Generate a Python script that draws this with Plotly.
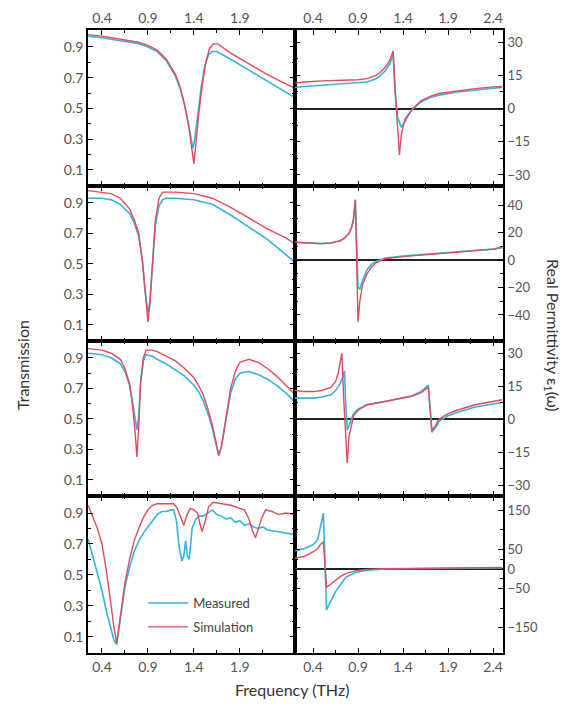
import plotly.graph_objects as go

# ---------------- data ----------------
# Row 1 : transmission
t1_meas_x = [0.25,0.4,0.6,0.8,0.9,1.0,1.1,1.2,1.25,1.3,1.34,1.37,1.39,1.41,1.44,1.48,1.52,1.56,1.6,1.65,1.8,2.0,2.2,2.4,2.5]
t1_meas_y = [0.97,0.96,0.94,0.92,0.9,0.87,0.81,0.71,0.63,0.52,0.40,0.30,0.24,0.30,0.45,0.64,0.78,0.85,0.87,0.87,0.82,0.75,0.68,0.61,0.57]
t1_sim_x = [0.25,0.4,0.6,0.8,0.9,1.0,1.1,1.2,1.25,1.3,1.34,1.37,1.40,1.42,1.45,1.49,1.53,1.57,1.61,1.66,1.8,2.0,2.2,2.4,2.5]
t1_sim_y = [0.98,0.97,0.95,0.93,0.91,0.88,0.82,0.72,0.64,0.52,0.40,0.28,0.14,0.26,0.45,0.65,0.80,0.89,0.92,0.92,0.86,0.79,0.72,0.66,0.63]
# Row 1 : permittivity
e1_meas_x = [0.2,0.3,0.5,0.7,0.9,1.0,1.1,1.15,1.2,1.25,1.29,1.31,1.34,1.38,1.42,1.46,1.51,1.6,1.7,1.8,2.0,2.2,2.4,2.5]
e1_meas_y = [9.5,10,10.5,11,11.5,12,13.5,15,17,20,24.5,8,-4,-8.5,-6,-3,0,3,5,6,7.5,8.5,9.2,9.5]
e1_sim_x = [0.2,0.3,0.5,0.7,0.9,1.0,1.1,1.15,1.2,1.25,1.29,1.31,1.34,1.36,1.38,1.42,1.46,1.51,1.6,1.7,1.8,2.0,2.2,2.4,2.5]
e1_sim_y = [11.5,12,12.5,12.8,13,13.5,15,16.5,18.5,21.5,26,10,-10,-21,-12,-5,-2.5,0,3.5,5.5,6.8,8,9,9.8,10]

# Row 2 : transmission
t2_x = [0.25,0.4,0.5,0.6,0.7,0.75,0.8,0.84,0.87,0.9,0.92,0.95,0.98,1.02,1.06,1.1,1.2,1.4,1.6,1.8,2.0,2.2,2.4,2.5]
t2_meas_y = [0.93,0.93,0.92,0.89,0.83,0.77,0.68,0.52,0.32,0.18,0.25,0.50,0.75,0.88,0.92,0.93,0.93,0.92,0.89,0.82,0.74,0.66,0.56,0.51]
t2_sim_y = [0.98,0.97,0.96,0.93,0.86,0.79,0.70,0.52,0.30,0.12,0.22,0.50,0.78,0.93,0.97,0.97,0.97,0.96,0.93,0.87,0.80,0.73,0.67,0.63]
# Row 2 : permittivity
e2_x = [0.2,0.3,0.4,0.5,0.6,0.7,0.75,0.8,0.83,0.85,0.87,0.88,0.89,0.9,0.92,0.95,1.0,1.05,1.1,1.2,1.4,1.6,1.8,2.0,2.2,2.4,2.5]
e2_meas_y = [13,12.5,12,12,12.5,14,16,19.5,24,30,44,20,-5,-20,-21,-15,-7,-3,-1,1.5,3,4,4.5,5.5,6.5,8,9]
e2_sim_y = [13,12.5,12,12,12.5,14,16,19.5,24,30,44,10,-30,-45,-30,-18,-10,-5,-2,1,2.5,3.5,4.5,5.5,6.5,8,9.5]

# Row 3 : transmission
t3_x = [0.25,0.4,0.5,0.6,0.65,0.7,0.73,0.76,0.78,0.8,0.82,0.85,0.88,0.95,1.0,1.1,1.2,1.3,1.4,1.45,1.5,1.55,1.6,1.64,1.67,1.7,1.75,1.8,1.85,1.9,2.0,2.1,2.2,2.3,2.4,2.5]
t3_meas_y = [0.93,0.92,0.90,0.86,0.81,0.72,0.62,0.50,0.43,0.52,0.73,0.88,0.92,0.91,0.89,0.86,0.82,0.78,0.72,0.68,0.62,0.54,0.44,0.34,0.26,0.32,0.50,0.67,0.76,0.80,0.81,0.79,0.76,0.72,0.67,0.61]
t3_sim_y = [0.96,0.95,0.93,0.89,0.83,0.73,0.60,0.42,0.25,0.45,0.74,0.90,0.95,0.95,0.94,0.91,0.88,0.83,0.77,0.72,0.66,0.57,0.46,0.35,0.26,0.32,0.51,0.70,0.81,0.87,0.89,0.87,0.83,0.78,0.72,0.66]
# Row 3 : permittivity
e3_meas_x = [0.2,0.3,0.4,0.5,0.6,0.65,0.7,0.73,0.75,0.76,0.78,0.8,0.85,0.9,1.0,1.2,1.4,1.5,1.6,1.65,1.68,1.70,1.72,1.76,1.8,1.9,2.0,2.2,2.4,2.5]
e3_meas_y = [9.5,9.5,9.5,10,11,13,16,19,22,10,-5,-3,2.5,4.5,6.5,8,9.5,10.5,12.5,14.5,15.5,5,-6,-4,-1,1.5,3,5.5,7,7.5]
e3_sim_x = [0.2,0.3,0.4,0.5,0.6,0.65,0.68,0.70,0.72,0.74,0.76,0.78,0.80,0.85,0.9,1.0,1.2,1.4,1.5,1.6,1.65,1.68,1.70,1.72,1.76,1.8,1.9,2.0,2.2,2.4,2.5]
e3_sim_y = [13,12.5,12.5,13,14.5,17,21,25,30,10,-8,-20,-8,1.5,4,6.5,8,9.5,10.5,12,13.5,14.5,5,-5,-3,0,2.5,4,6.5,8.2,8.8]

# Row 4 : transmission
t4_meas_x = [0.25,0.3,0.35,0.4,0.45,0.5,0.53,0.56,0.6,0.65,0.7,0.75,0.8,0.85,0.9,0.95,1.0,1.05,1.1,1.15,1.18,1.21,1.24,1.27,1.29,1.31,1.33,1.35,1.38,1.42,1.46,1.5,1.55,1.6,1.65,1.7,1.75,1.8,1.85,1.9,1.95,2.0,2.05,2.1,2.15,2.2,2.3,2.4,2.5]
t4_meas_y = [0.73,0.62,0.52,0.40,0.26,0.14,0.08,0.05,0.22,0.42,0.55,0.65,0.72,0.77,0.81,0.85,0.89,0.91,0.91,0.92,0.92,0.85,0.68,0.59,0.62,0.72,0.62,0.60,0.80,0.86,0.88,0.88,0.90,0.92,0.89,0.88,0.86,0.87,0.84,0.85,0.82,0.83,0.81,0.80,0.81,0.79,0.78,0.77,0.76]
t4_sim_x = [0.25,0.3,0.35,0.4,0.45,0.5,0.53,0.56,0.6,0.65,0.7,0.75,0.8,0.85,0.9,0.95,1.0,1.1,1.18,1.22,1.26,1.29,1.32,1.36,1.4,1.44,1.47,1.49,1.52,1.56,1.61,1.7,1.8,1.9,1.95,2.0,2.04,2.07,2.1,2.14,2.18,2.25,2.32,2.4,2.5]
t4_sim_y = [0.95,0.88,0.80,0.70,0.52,0.30,0.16,0.06,0.25,0.45,0.60,0.72,0.80,0.87,0.92,0.95,0.96,0.96,0.96,0.93,0.86,0.82,0.88,0.93,0.92,0.90,0.82,0.78,0.84,0.94,0.97,0.96,0.95,0.93,0.92,0.86,0.78,0.74,0.79,0.87,0.92,0.91,0.89,0.90,0.89]
# Row 4 : permittivity
e4_x = [0.2,0.3,0.4,0.45,0.48,0.5,0.515,0.53,0.55,0.58,0.62,0.66,0.72,0.77,0.88,1.0,1.2,1.5,2.0,2.5]
e4_meas_y = [47,52,62,75,105,130,143,40,-105,-90,-70,-54,-35,-20,-8,-3,0,1,2,3]
e4_sim_y = [28,32,44,52,62,67,70,20,-46,-42,-34,-27,-17,-11,-4,-1,1,2,3,4]

# tick labels
freq_ticks = [0.4, 0.9, 1.4, 1.9]
freq_ticks_right = [0.4, 0.9, 1.4, 1.9, 2.4]
trans_ticks = [0.1, 0.3, 0.5, 0.7, 0.9]
eps_ticks = [[-30, -15, 0, 15, 30], [-40, -20, 0, 20, 40], [-30, -15, 0, 15, 30], [-150, -50, 0, 50, 150]]
eps_ranges = [[-35, 35.5], [-59, 54], [-35, 35.5], [-215, 187]]

series_names = ["Measured", "Simulation"]
panels = [
    [(t1_meas_x, t1_meas_y, t1_sim_x, t1_sim_y), (e1_meas_x, e1_meas_y, e1_sim_x, e1_sim_y)],
    [(t2_x, t2_meas_y, t2_x, t2_sim_y), (e2_x, e2_meas_y, e2_x, e2_sim_y)],
    [(t3_x, t3_meas_y, t3_x, t3_sim_y), (e3_meas_x, e3_meas_y, e3_sim_x, e3_sim_y)],
    [(t4_meas_x, t4_meas_y, t4_sim_x, t4_sim_y), (e4_x, e4_meas_y, e4_x, e4_sim_y)],
]

# ---------------- figure ----------------
W, H = 569, 704
MEAS = "#35b3dc"
SIM = "#e24b5b"
FONT = "Lato"
TICKC = "#555555"

x_left = [88 / W, 295 / W]
x_right = [295 / W, 503 / W]
row_px = [(30, 186), (186, 341), (341, 496), (496, 653)]

fig = go.Figure()
layout = dict(width=W, height=H, margin=dict(l=0, r=0, t=0, b=0),
              paper_bgcolor="white", plot_bgcolor="white",
              font=dict(family=FONT, color=TICKC))

for r in range(4):
    for c in range(2):
        n = r * 2 + c + 1
        xa = "x" if n == 1 else f"x{n}"
        ya = "y" if n == 1 else f"y{n}"
        mx, my, sx, sy = panels[r][c]
        show = (r == 3 and c == 0)
        fig.add_trace(go.Scatter(x=mx, y=my, mode="lines", name=series_names[0],
                                 line=dict(color=MEAS, width=1.6), xaxis=xa, yaxis=ya,
                                 showlegend=show, legendgroup="m"))
        fig.add_trace(go.Scatter(x=sx, y=sy, mode="lines", name=series_names[1],
                                 line=dict(color=SIM, width=1.4), xaxis=xa, yaxis=ya,
                                 showlegend=show, legendgroup="s"))
        top, bot = row_px[r]
        ydom = [1 - bot / H, 1 - top / H]
        xkey = "xaxis" if n == 1 else f"xaxis{n}"
        ykey = "yaxis" if n == 1 else f"yaxis{n}"
        side_x = "top" if r == 0 else "bottom"
        show_xlabels = (r == 0 or r == 3)
        layout[xkey] = dict(
            domain=x_left if c == 0 else x_right,
            anchor=ya, side=side_x,
            range=[0.248, 2.5] if c == 0 else [0.2, 2.51],
            tickmode="array", tickvals=freq_ticks if c == 0 else freq_ticks_right,
            showticklabels=show_xlabels,
            ticks="inside", ticklen=5, tickwidth=1.2, tickcolor="black",
            minor=dict(tickmode="array", tickvals=[0.65, 1.15, 1.65, 2.15],
                       ticks="inside", ticklen=3, tickcolor="black"),
            showline=True, linecolor="black", linewidth=1.6, mirror="ticks",
            showgrid=False, zeroline=False,
            tickfont=dict(family=FONT, size=14, color=TICKC),
        )
        if c == 0:
            layout[ykey] = dict(
                domain=ydom, anchor=xa, range=[-0.005, 1.01],
                tickmode="array", tickvals=trans_ticks,
                ticks="inside", ticklen=5, tickwidth=1.2, tickcolor="black",
                minor=dict(tickmode="array", tickvals=[0.2, 0.4, 0.6, 0.8],
                           ticks="inside", ticklen=3, tickcolor="black"),
                showline=True, linecolor="black", linewidth=1.6, mirror="ticks",
                showgrid=False, zeroline=False,
                tickfont=dict(family=FONT, size=14, color=TICKC),
            )
        else:
            tv = eps_ticks[r]
            minor_vals = [(tv[i] + tv[i + 1]) / 2 for i in range(len(tv) - 1)]
            layout[ykey] = dict(
                domain=ydom, anchor=xa, side="right", range=eps_ranges[r],
                tickmode="array", tickvals=tv,
                ticks="inside", ticklen=5, tickwidth=1.2, tickcolor="black",
                minor=dict(tickmode="array", tickvals=minor_vals,
                           ticks="inside", ticklen=3, tickcolor="black"),
                showline=True, linecolor="black", linewidth=1.6, mirror="ticks",
                showgrid=False, zeroline=True, zerolinecolor="#222222", zerolinewidth=2,
                tickfont=dict(family=FONT, size=13, color=TICKC),
            )

layout["legend"] = dict(x=150 / W - 0.012, y=1 - 588 / H, xanchor="left", yanchor="top",
                        bgcolor="rgba(0,0,0,0)", tracegroupgap=4,
                        font=dict(family=FONT, size=13, color="#444444"),
                        itemwidth=40)
layout["annotations"] = [
    dict(text="Transmission", x=22 / W, y=1 - 365 / H, xref="paper", yref="paper",
         xanchor="center", yanchor="middle",
         textangle=-90, showarrow=False, font=dict(family=FONT, size=16, color="#333333")),
    dict(text="Real Permittivity ε<sub>1</sub>(ω)", x=553 / W, y=1 - 335 / H,
         xref="paper", yref="paper", xanchor="center", yanchor="middle",
         textangle=90, showarrow=False,
         font=dict(family=FONT, size=16, color="#333333")),
    dict(text="Frequency (THz)", x=292 / W, y=1 - 689 / H, xref="paper", yref="paper",
         xanchor="center", yanchor="middle",
         showarrow=False, font=dict(family=FONT, size=16, color="#333333")),
]
fig.update_layout(**layout)
fig.write_html("out.html", config={"displayModeBar": False},
               post_script="document.body.style.margin='0';document.body.style.overflow='hidden';")
